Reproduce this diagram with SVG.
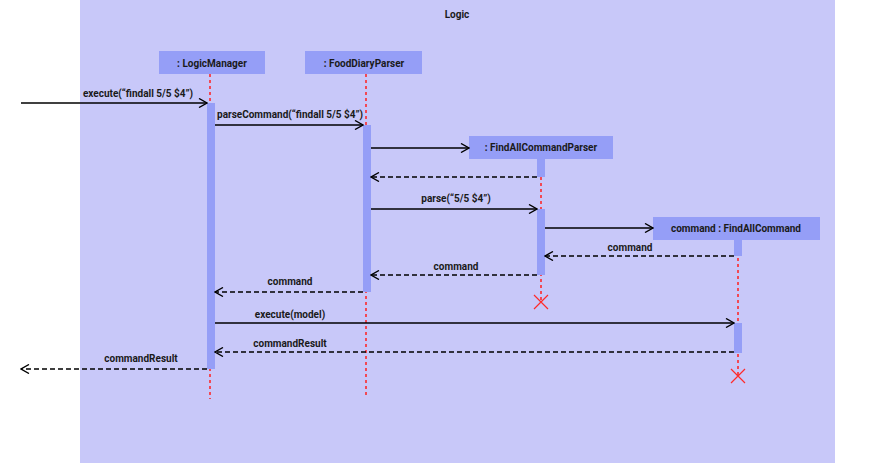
<svg xmlns="http://www.w3.org/2000/svg" width="878" height="463" viewBox="0 0 878 463">
<style>
text{font-family:Roboto,"Liberation Sans",sans-serif;font-size:10px;font-weight:bold;fill:#1a1a1a}
.node rect{fill:#959ef7}
.life{stroke:#ff1f1f;stroke-width:1.5;stroke-dasharray:3 3;fill:none}
.act{fill:#959ef7}
.msg{stroke:#000;stroke-width:1.3;fill:none;marker-end:url(#arr)}
.ret{stroke:#000;stroke-width:1.3;fill:none;stroke-dasharray:5 3;marker-end:url(#arr)}
.x{stroke:#ff2a2a;stroke-width:1.2}
</style>
<defs>
<marker id="arr" viewBox="0 0 10 10" refX="9" refY="5" markerWidth="10" markerHeight="10" markerUnits="userSpaceOnUse" orient="auto">
<path d="M1 0.5 L9 5 L1 9.5" fill="none" stroke="#000" stroke-width="1.4"/>
</marker>
</defs>
<rect x="80" y="0" width="755" height="463" fill="#c8c8f9"/>
<text x="457" y="18" text-anchor="middle">Logic</text>
<g id="lifelines">
<line class="life" x1="210" y1="74" x2="210" y2="399"/>
<line class="life" x1="366" y1="74" x2="366" y2="396"/>
<line class="life" x1="541" y1="159" x2="541" y2="302"/>
<line class="life" x1="738" y1="240" x2="738" y2="376"/>
</g>
<g id="activations">
<rect class="act" x="207" y="103" width="8" height="266"/>
<rect class="act" x="363" y="125" width="8" height="167"/>
<rect class="act" x="537" y="159" width="8" height="18"/>
<rect class="act" x="537" y="209" width="8" height="66"/>
<rect class="act" x="734" y="240" width="8" height="16"/>
<rect class="act" x="734" y="323" width="8" height="30"/>
</g>
<g id="n1" class="node"><rect x="159" y="51" width="106" height="23"/><text x="212" y="67" text-anchor="middle">: LogicManager</text></g>
<g id="n2" class="node"><rect x="305" y="51" width="117" height="23"/><text x="364" y="67" text-anchor="middle">: FoodDiaryParser</text></g>
<g id="n3" class="node"><rect x="469" y="136" width="144" height="23"/><text x="541" y="151" text-anchor="middle">: FindAllCommandParser</text></g>
<g id="n4" class="node"><rect x="653" y="217" width="167" height="23"/><text x="736" y="232" text-anchor="middle">command : FindAllCommand</text></g>
<g id="connectors">
<line class="msg" x1="21" y1="103" x2="207" y2="103"/>
<text x="138" y="97" text-anchor="middle">execute(“findall 5/5 $4”)</text>
<line class="msg" x1="215" y1="125" x2="363" y2="125"/>
<text x="290" y="118" text-anchor="middle">parseCommand(“findall 5/5 $4”)</text>
<line class="msg" x1="371" y1="148" x2="469" y2="148"/>
<line class="ret" x1="537" y1="177" x2="371" y2="177"/>
<line class="msg" x1="371" y1="209" x2="537" y2="209"/>
<text x="456" y="202" text-anchor="middle">parse(“5/5 $4”)</text>
<line class="msg" x1="545" y1="228" x2="653" y2="228"/>
<line class="ret" x1="734" y1="256" x2="545" y2="256"/>
<text x="630" y="251" text-anchor="middle">command</text>
<line class="ret" x1="537" y1="275" x2="371" y2="275"/>
<text x="456" y="270" text-anchor="middle">command</text>
<line class="ret" x1="363" y1="292" x2="215" y2="292"/>
<text x="290" y="285" text-anchor="middle">command</text>
<line class="msg" x1="215" y1="323" x2="734" y2="323"/>
<text x="290" y="318" text-anchor="middle">execute(model)</text>
<line class="ret" x1="734" y1="352" x2="215" y2="352"/>
<text x="290" y="347" text-anchor="middle">commandResult</text>
<line class="ret" x1="207" y1="369" x2="21" y2="369"/>
<text x="141" y="362" text-anchor="middle">commandResult</text>
</g>
<g id="destroy">
<path class="x" d="M534 295 L548 309 M548 295 L534 309"/>
<path class="x" d="M731 369 L745 383 M745 369 L731 383"/>
</g>
</svg>
